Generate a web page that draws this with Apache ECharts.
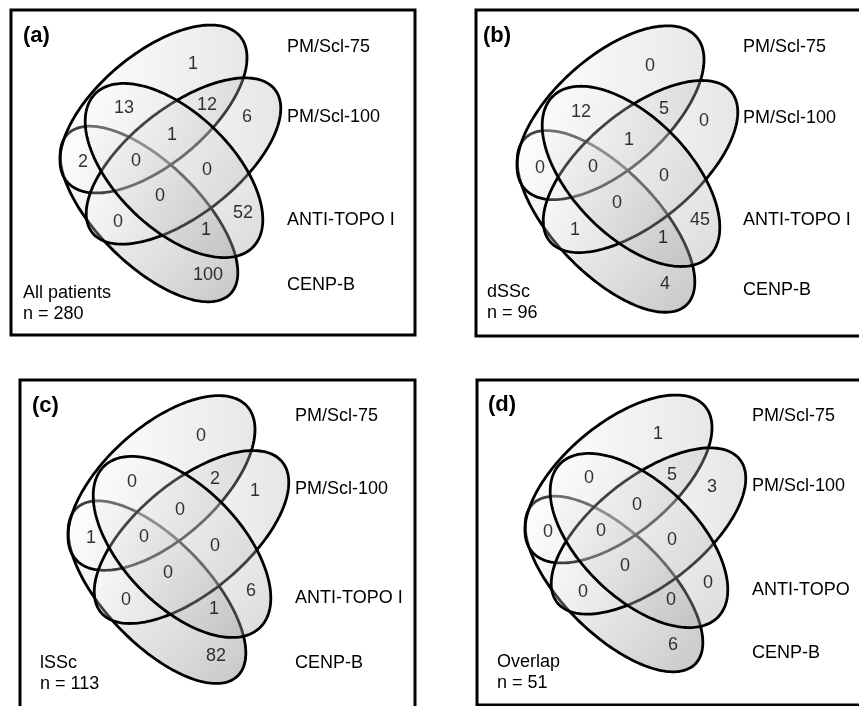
<!DOCTYPE html>
<html>
<head>
<meta charset="utf-8">
<script src="https://cdn.jsdelivr.net/npm/echarts@6/dist/echarts.min.js"></script>
<style>
  html, body { margin: 0; padding: 0; background: #fff; }
  #chart { width: 859px; height: 706px; }
</style>
</head>
<body>
<div id="chart"></div>
<script>
const setNames = ['PM/Scl-75', 'PM/Scl-100', 'ANTI-TOPO I', 'CENP-B'];
const setNamesOverlap = ['PM/Scl-75', 'PM/Scl-100', 'ANTI-TOPO', 'CENP-B'];
const panelTags = ['(a)', '(b)', '(c)', '(d)'];
const groupNames = ['All patients', 'dSSc', 'lSSc', 'Overlap'];
const groupSizes = [280, 96, 113, 51];

// region counts, same order as regionPos
const countsAll = [1, 13, 12, 6, 1, 2, 0, 0, 0, 0, 52, 1, 100];
const countsDSSc = [0, 12, 5, 0, 1, 0, 0, 0, 0, 1, 45, 1, 4];
const countsLSSc = [0, 0, 2, 1, 0, 1, 0, 0, 0, 0, 6, 1, 82];
const countsOverlap = [1, 0, 5, 3, 0, 0, 0, 0, 0, 0, 0, 0, 6];
const panelCounts = [countsAll, countsDSSc, countsLSSc, countsOverlap];

// layout (panel a coordinates, px)
const regionPos = [[193, 64], [124, 108], [207, 105], [247, 117], [172, 135], [83, 162], [136, 161],
  [207, 170], [160, 196], [118, 222], [243, 213], [206, 230], [208, 275]];
// cx, cy, semi-axis a, semi-axis b, tilt in degrees; drawn in this order
const ellipses = [
  [149, 214, 114, 51, -44.5],  // CENP-B
  [153.5, 109, 113, 55, 40],   // PM/Scl-75
  [183.5, 161, 116, 54, 38],   // PM/Scl-100
  [174, 170.5, 110, 58, -44]   // ANTI-TOPO I
];
// end colour of each ellipse's shading: grey level, alpha
const ellipseShade = [[135, 0.48], [175, 0.3], [175, 0.32], [160, 0.38]];
const panelShift = [
  { dx: 0, dy: 0, sy: 1 },
  { dx: 457, dy: 2, sy: 1.035 },
  { dx: 8, dy: 372, sy: 1.04 },
  { dx: 465, dy: 370, sy: 1 }
];
const frames = [[11, 10, 404, 325], [476, 10, 420, 326], [20, 380, 395, 360], [477, 380, 420, 325]];
const tagPos = [[23, 36], [483, 36], [32, 406], [488, 405]];
const setLabelX = [287, 743, 295, 752];
const setLabelY = [[47, 117, 220, 285], [47, 118, 220, 290], [416, 489, 598, 663], [416, 486, 590, 653]];
const groupPos = [[23, 293], [487, 292], [40, 663], [497, 662]];

const FONT = '"Liberation Sans", Arial, Helvetica, sans-serif';

function shiftX(p, x) { return x + panelShift[p].dx; }
function shiftY(p, y) { const t = panelShift[p]; return 60 + (y - 60) * t.sy + t.dy; }

function ellipseSeries(p) {
  return {
    type: 'custom',
    coordinateSystem: 'cartesian2d',
    silent: true,
    z: 2,
    data: ellipses.map((e, i) => [i, i]),
    renderItem: (params, api) => {
      const i = params.dataIndex;
      const [cx, cy, a, b, tilt] = ellipses[i];
      const r = tilt * Math.PI / 180;
      const pts = [];
      for (let k = 0; k < 200; k++) {
        const th = k / 200 * Math.PI * 2;
        const x = cx + a * Math.cos(th) * Math.cos(r) + b * Math.sin(th) * Math.sin(r);
        const y = cy - a * Math.cos(th) * Math.sin(r) + b * Math.sin(th) * Math.cos(r);
        pts.push(api.coord([shiftX(p, x), shiftY(p, y)]));
      }
      const [g, al] = ellipseShade[i];
      // "/" ellipses shade left to right, "\" ellipses top-left to bottom-right
      const diag = tilt < 0 ? 1 : 0;
      return {
        type: 'polygon',
        shape: { points: pts },
        style: {
          fill: new echarts.graphic.LinearGradient(0, 0, 1, diag, [
            { offset: 0, color: 'rgba(255,255,255,0.25)' },
            { offset: 1, color: `rgba(${g},${g},${g},${al})` }
          ]),
          stroke: '#000',
          lineWidth: 2.8
        }
      };
    }
  };
}

function countSeries(p) {
  return {
    type: 'scatter',
    silent: true,
    z: 5,
    symbolSize: 1,
    itemStyle: { color: 'rgba(0,0,0,0)' },
    data: regionPos.map((pos, i) => [shiftX(p, pos[0]), shiftY(p, pos[1]), panelCounts[p][i]]),
    label: {
      show: true,
      position: 'inside',
      formatter: (d) => String(d.value[2]),
      fontSize: 18,
      fontFamily: FONT,
      color: '#000'
    }
  };
}

const graphics = [];
frames.forEach((f) => {
  graphics.push({
    type: 'rect', z: 0,
    shape: { x: f[0], y: f[1], width: f[2], height: f[3] },
    style: { fill: 'none', stroke: '#000', lineWidth: 3 }
  });
});
for (let p = 0; p < 4; p++) {
  const names = p === 3 ? setNamesOverlap : setNames;
  graphics.push({
    type: 'text', z: 10,
    style: { text: panelTags[p], x: tagPos[p][0], y: tagPos[p][1], verticalAlign: 'middle',
      font: 'bold 22px ' + FONT, fill: '#000' }
  });
  names.forEach((nm, i) => {
    graphics.push({
      type: 'text', z: 10,
      style: { text: nm, x: setLabelX[p], y: setLabelY[p][i], verticalAlign: 'middle',
        font: '18px ' + FONT, fill: '#000' }
    });
  });
  graphics.push({
    type: 'text', z: 10,
    style: { text: groupNames[p], x: groupPos[p][0], y: groupPos[p][1], verticalAlign: 'middle',
      font: '18px ' + FONT, fill: '#000' }
  });
  graphics.push({
    type: 'text', z: 10,
    style: { text: 'n = ' + groupSizes[p], x: groupPos[p][0], y: groupPos[p][1] + 21, verticalAlign: 'middle',
      font: '18px ' + FONT, fill: '#000' }
  });
}

const chart = echarts.init(document.getElementById('chart'), null, { renderer: 'canvas' });
chart.setOption({
  animation: false,
  backgroundColor: '#fff',
  grid: { left: 0, right: 0, top: 0, bottom: 0 },
  xAxis: { type: 'value', min: 0, max: 859, show: false },
  yAxis: { type: 'value', min: 0, max: 706, inverse: true, show: false },
  graphic: graphics,
  series: [0, 1, 2, 3].flatMap((p) => [ellipseSeries(p), countSeries(p)])
});
</script>
</body>
</html>
